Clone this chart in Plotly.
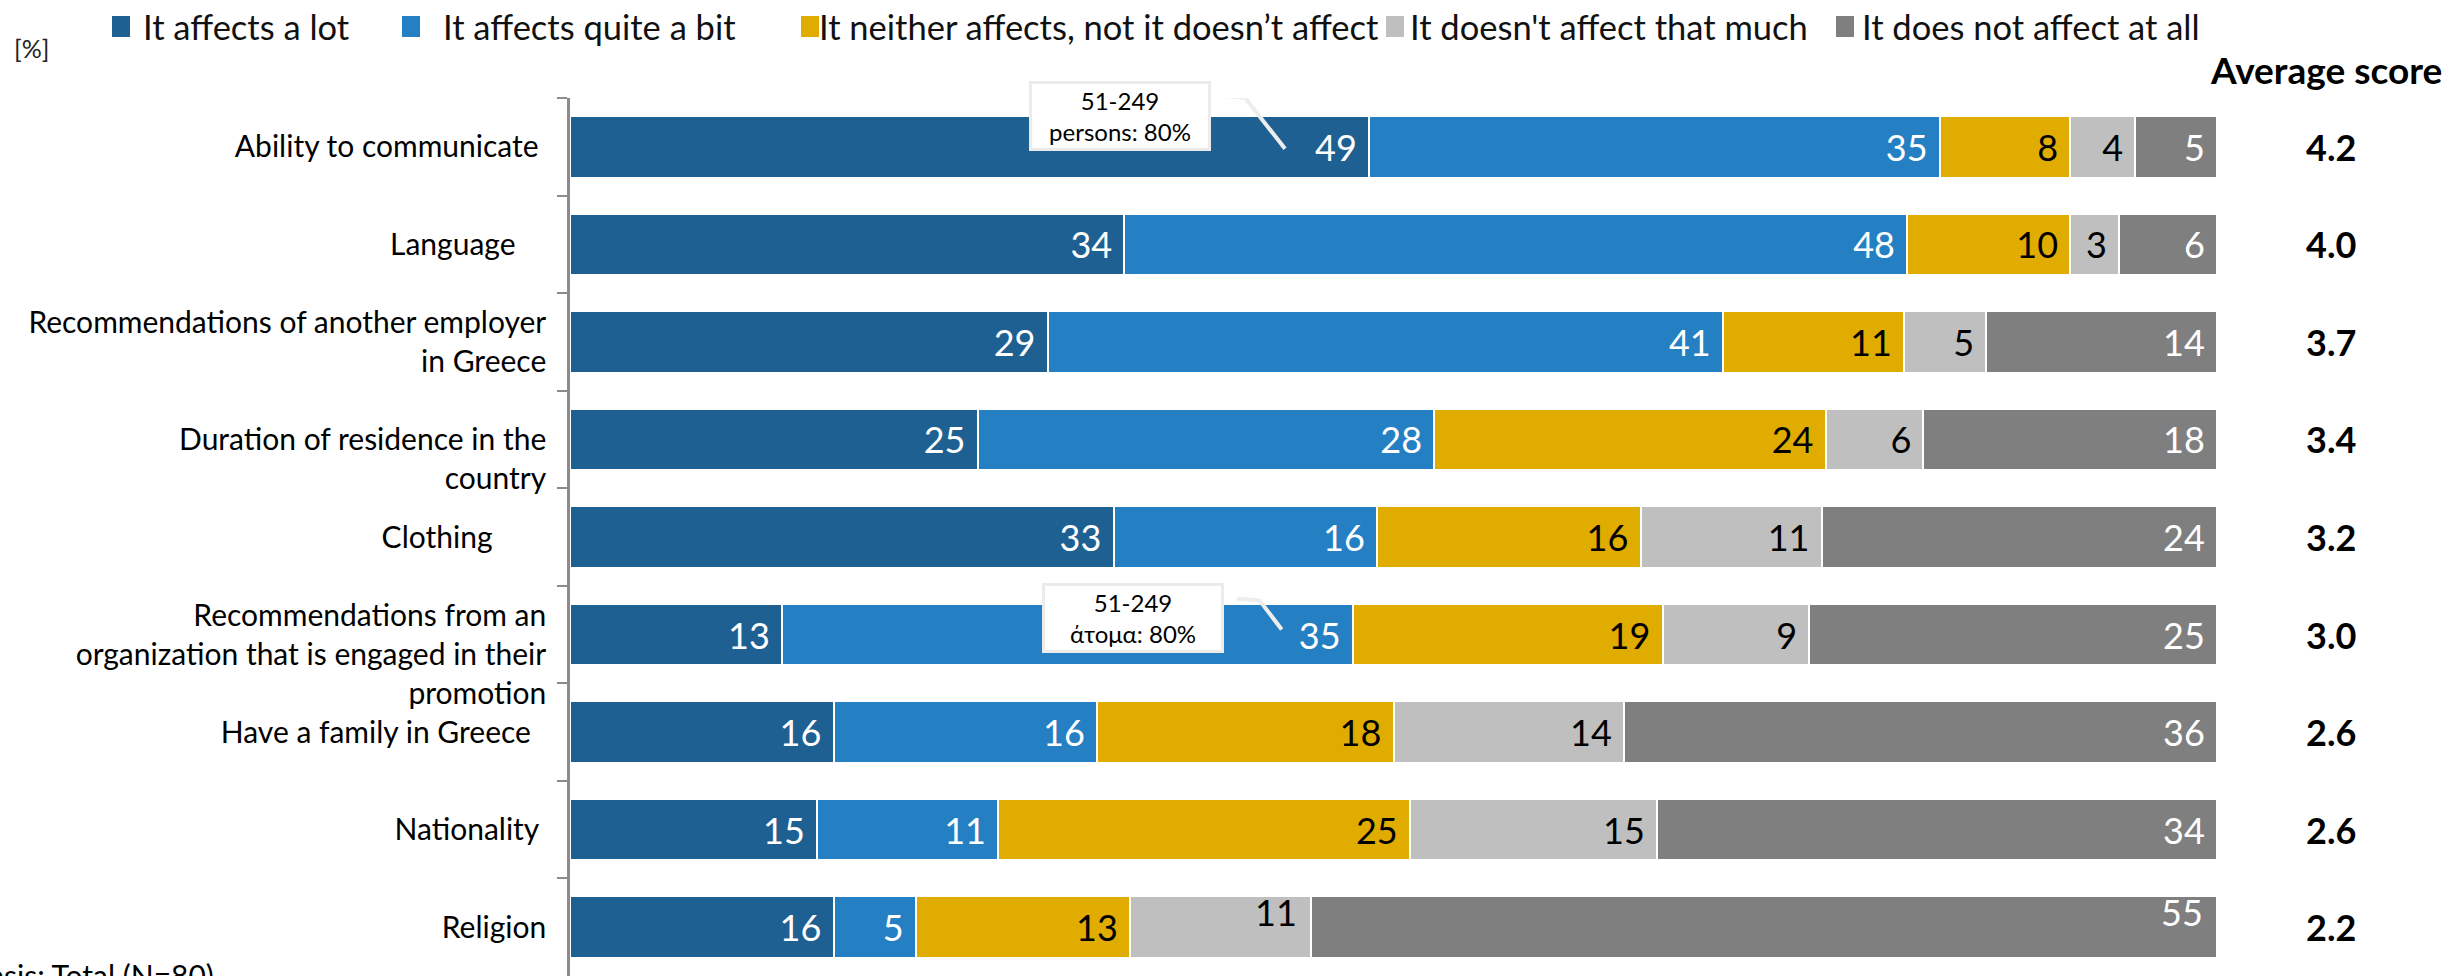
import plotly.graph_objects as go

# ---- data -------------------------------------------------------------
categories = [
    "Ability to communicate\u00a0",
    "Language\u00a0\u00a0\u00a0\u00a0",
    "Recommendations of another employer<br>in Greece",
    "\u00a0<br>Duration of residence in the<br>country",
    "Clothing\u00a0\u00a0\u00a0\u00a0\u00a0\u00a0\u00a0",
    "\u00a0<br>Recommendations from an<br>organization that is engaged in their<br>promotion",
    "Have a family in Greece\u00a0\u00a0",
    "Nationality\u00a0",
    "Religion",
]
affects_a_lot = [49, 34, 29, 25, 33, 13, 16, 15, 16]
affects_quite_a_bit = [35, 48, 41, 28, 16, 35, 16, 11, 5]
neither = [8, 10, 11, 24, 16, 19, 18, 25, 13]
not_that_much = [4, 3, 5, 6, 11, 9, 14, 15, 11]
not_at_all = [5, 6, 14, 18, 24, 25, 36, 34, 55]
average_score = ["4.2", "4.0", "3.7", "3.4", "3.2", "3.0", "2.6", "2.6", "2.2"]

series_names = [
    "It affects a lot",
    "It affects quite a bit",
    "It neither affects, not it doesn\u2019t affect",
    "It doesn't affect that much",
    "It does not affect at all",
]
series_values = [affects_a_lot, affects_quite_a_bit, neither, not_that_much, not_at_all]
series_colors = ["#1F6092", "#2580C3", "#E0AC00", "#BFBFBF", "#7F7F7F"]
label_colors = ["white", "white", "black", "black", "white"]

# ---- page geometry ----------------------------------------------------
W, H = 2459, 976
ML, MR, MT, MB = 570, 242, 98, 0
PW, PH = W - ML - MR, H - MT - MB
FONT = "Lato"
N = len(categories)


def paper_x(px):
    return (px - ML) / PW


def paper_y(py):
    return (H - MB - py) / PH


def data_dx(px):
    return px * 100.0 / PW


def data_dy(py):
    return py * N / PH


totals = [sum(s[i] for s in series_values) for i in range(N)]


def seg_end(row, k):
    """Right edge (in % of the normalised bar) of segment k of a row."""
    return sum(series_values[j][row] for j in range(k + 1)) / totals[row] * 100.0


# labels drawn separately (raised) in the last row
raised = {(8, 3), (8, 4)}

fig = go.Figure()
for k, (name, vals, col, tcol) in enumerate(zip(series_names, series_values, series_colors, label_colors)):
    positions = ["none" if (i, k) in raised else "inside" for i in range(N)]
    fig.add_trace(go.Bar(
        y=categories,
        x=vals,
        name=name,
        orientation="h",
        width=0.63,
        marker=dict(color=col, line=dict(color="white", width=2)),
        text=[str(v) for v in vals],
        texttemplate="%{text}\u00a0",
        textposition=positions,
        insidetextanchor="end",
        constraintext="none",
        textangle=0,
        insidetextfont=dict(family=FONT, size=36, color=tcol),
        showlegend=False,
        hoverinfo="skip",
    ))

annotations = []
shapes = []

# raised value labels in the last row
for (row, k) in sorted(raised):
    annotations.append(dict(
        x=seg_end(row, k), y=row, xref="x", yref="y",
        text=str(series_values[k][row]) + "\u00a0",
        showarrow=False, xanchor="right", yanchor="middle",
        xshift=-3, yshift=15,
        font=dict(family=FONT, size=36, color=label_colors[k]),
    ))

# average score column
annotations.append(dict(
    x=paper_x(2326), y=paper_y(69), xref="paper", yref="paper",
    text="<b>Average score</b>", showarrow=False,
    xanchor="center", yanchor="middle",
    font=dict(family=FONT, size=37, color="black"),
))
for i, s in enumerate(average_score):
    annotations.append(dict(
        x=paper_x(2331), y=i, xref="paper", yref="y",
        text=f"<b>{s}</b>", showarrow=False,
        xanchor="center", yanchor="middle",
        font=dict(family=FONT, size=36, color="black"),
    ))

# legend row
legend_square_x = [112, 402, 801, 1386, 1836]
legend_text_x = [141, 441, 817, 1408, 1860]
for name, col, sx, tx in zip(series_names, series_colors, legend_square_x, legend_text_x):
    shapes.append(dict(
        type="rect", xref="paper", yref="paper",
        x0=paper_x(sx), x1=paper_x(sx + 18), y0=paper_y(37), y1=paper_y(16),
        fillcolor=col, line=dict(width=0),
    ))
    annotations.append(dict(
        x=paper_x(tx), y=paper_y(26), xref="paper", yref="paper",
        text=name, showarrow=False, xanchor="left", yanchor="middle",
        font=dict(family=FONT, size=34.5, color="#111111"),
    ))

annotations.append(dict(
    x=paper_x(12), y=paper_y(48), xref="paper", yref="paper",
    text="[%]", showarrow=False, xanchor="left", yanchor="middle",
    font=dict(family=FONT, size=25, color="#222222"),
))

annotations.append(dict(
    x=paper_x(-32), y=paper_y(955), xref="paper", yref="paper",
    text="Basis: Total (N=80)", showarrow=False, xanchor="left", yanchor="top",
    font=dict(family=FONT, size=30, color="black"),
))

# call-outs attached to value labels: (row, segment, text, box offset, leader path offsets)
callouts = [
    (0, 0, "51-249<br>persons: 80%", (-249, -31), [(-146, -51), (-124, -49), (-84, 2)]),
    (5, 1, "51-249<br>\u03ac\u03c4\u03bf\u03bc\u03b1: 80%", (-220, -17), [(-116, -36), (-93, -34), (-71, -5)]),
]
for row, k, txt, (bdx, bdy), leader in callouts:
    ax0 = seg_end(row, k)
    pts = [(ax0 + data_dx(dx), row + data_dy(dy)) for dx, dy in leader]
    path = "M {} {} ".format(*pts[0]) + " ".join("L {} {}".format(x, y) for x, y in pts[1:])
    shapes.append(dict(
        type="path", xref="x", yref="y", path=path,
        line=dict(color="#EDEDED", width=4),
    ))
    annotations.append(dict(
        x=ax0, y=row, xref="x", yref="y",
        xshift=bdx, yshift=-bdy,
        text=txt, showarrow=False, align="center",
        xanchor="center", yanchor="middle",
        width=172, height=60,
        bgcolor="white", bordercolor="#EBEBEB", borderwidth=3, borderpad=2,
        font=dict(family=FONT, size=24, color="black"),
    ))

fig.update_layout(
    width=W, height=H,
    margin=dict(l=ML, r=MR, t=MT, b=MB, pad=0),
    barmode="stack",
    barnorm="percent",
    bargap=0.37,
    plot_bgcolor="white",
    paper_bgcolor="white",
    font=dict(family=FONT, color="black"),
    showlegend=False,
    annotations=annotations,
    shapes=shapes,
    xaxis=dict(
        range=[0, 100], visible=False, showgrid=False, zeroline=False, fixedrange=True,
    ),
    yaxis=dict(
        type="category",
        range=[N - 0.5, -0.5],
        showline=True, linecolor="#8C8C8C", linewidth=2.5,
        ticks="outside", tickson="boundaries", ticklen=10, tickwidth=2, tickcolor="#8C8C8C",
        ticklabelstandoff=15,
        showgrid=False, zeroline=False,
        tickfont=dict(family=FONT, size=30, color="black"),
    ),
)

fig.write_html("out.html")
